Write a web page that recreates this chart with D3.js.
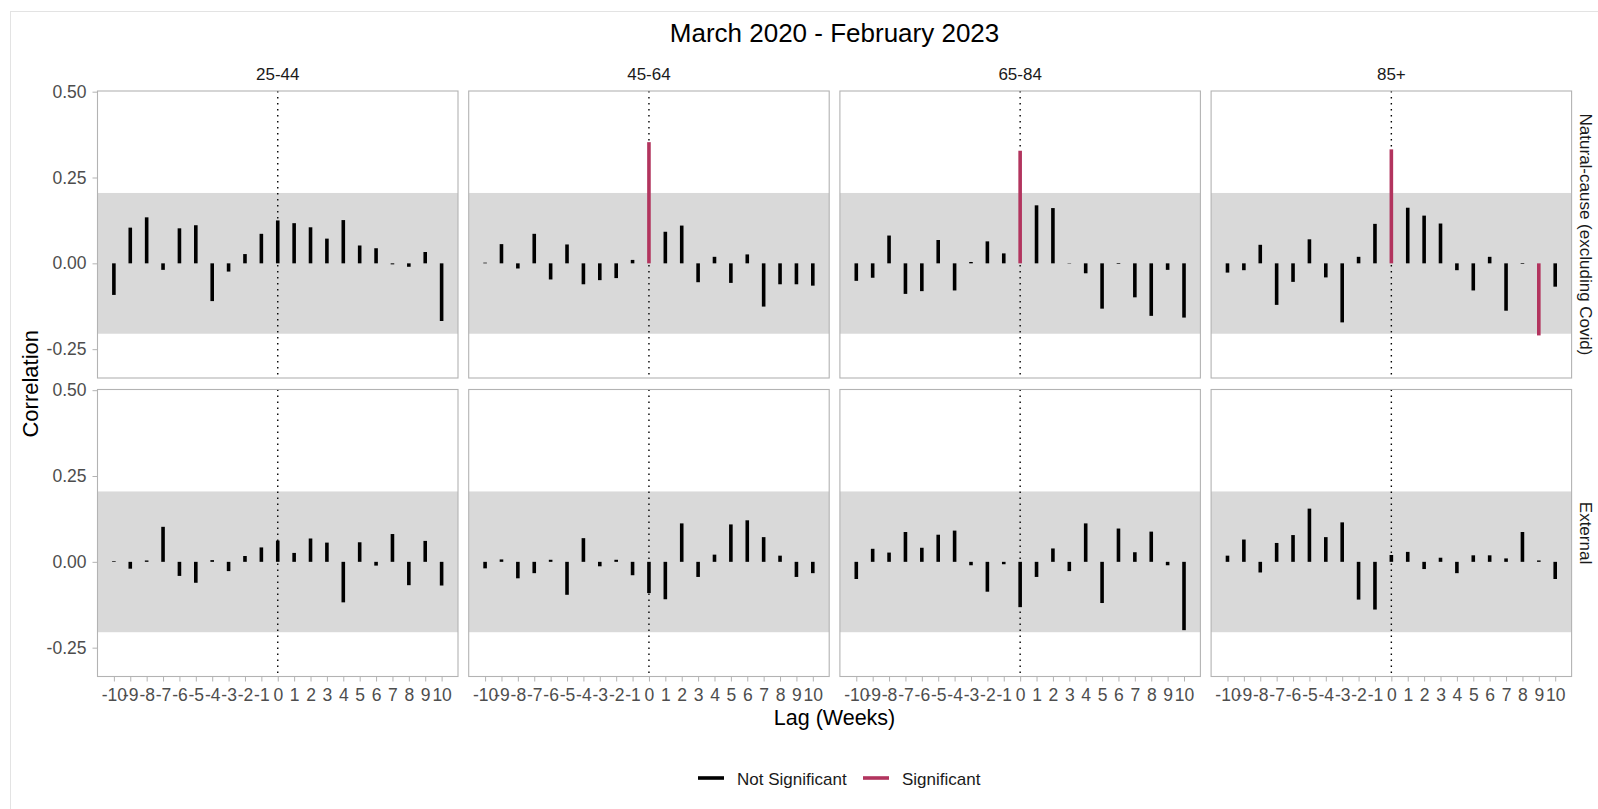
<!DOCTYPE html>
<html>
<head>
<meta charset="utf-8">
<script src="https://cdn.jsdelivr.net/npm/d3@7"></script>
<style>
  body { margin: 0; background: #fff; }
  svg { font-family: "Liberation Sans", Arial, sans-serif; }
</style>
</head>
<body>
<svg id="chart" width="1598" height="809"></svg>
<script>
// categories
const lags = [-10, -9, -8, -7, -6, -5, -4, -3, -2, -1, 0, 1, 2, 3, 4, 5, 6, 7, 8, 9, 10];
const ageGroups = ["25-44", "45-64", "65-84", "85+"];
const causes = ["Natural-cause (excluding Covid)", "External"];
const yTicks = [0.50, 0.25, 0.00, -0.25];
const bandLimit = 0.205; // significance band

// cross-correlation values by lag (-10..10)
const natural2544 = [-0.092, 0.104, 0.134, -0.019, 0.102, 0.111, -0.110, -0.024, 0.027, 0.086, 0.125, 0.117, 0.105, 0.072, 0.126, 0.052, 0.044, -0.003, -0.010, 0.033, -0.168];
const natural4564 = [0.002, 0.056, -0.015, 0.086, -0.047, 0.055, -0.061, -0.049, -0.043, 0.010, 0.353, 0.092, 0.110, -0.055, 0.019, -0.057, 0.026, -0.126, -0.061, -0.061, -0.065];
const natural6584 = [-0.051, -0.042, 0.081, -0.089, -0.081, 0.068, -0.079, 0.004, 0.064, 0.029, 0.328, 0.169, 0.161, 0.001, -0.029, -0.132, -0.002, -0.099, -0.153, -0.019, -0.158];
const natural85 = [-0.027, -0.020, 0.054, -0.121, -0.054, 0.070, -0.041, -0.172, 0.019, 0.115, 0.332, 0.162, 0.139, 0.116, -0.020, -0.079, 0.019, -0.138, -0.002, -0.210, -0.068];
const external2544 = [0.002, -0.020, 0.004, 0.102, -0.041, -0.061, 0.005, -0.027, 0.017, 0.042, 0.062, 0.026, 0.068, 0.056, -0.118, 0.057, -0.011, 0.081, -0.068, 0.061, -0.069];
const external4564 = [-0.019, 0.007, -0.048, -0.033, 0.006, -0.096, 0.069, -0.013, 0.006, -0.039, -0.091, -0.109, 0.112, -0.044, 0.021, 0.109, 0.121, 0.072, 0.018, -0.044, -0.033];
const external6584 = [-0.050, 0.038, 0.027, 0.087, 0.041, 0.079, 0.091, -0.010, -0.087, -0.007, -0.132, -0.044, 0.039, -0.027, 0.112, -0.120, 0.097, 0.028, 0.088, -0.010, -0.199];
const external85 = [0.018, 0.065, -0.031, 0.055, 0.078, 0.155, 0.072, 0.115, -0.110, -0.139, 0.020, 0.029, -0.021, 0.012, -0.033, 0.019, 0.019, 0.010, 0.087, 0.004, -0.050];

const panelValues = [
    [natural2544, natural4564, natural6584, natural85],
    [external2544, external4564, external6584, external85]
];

const legendItems = ["Not Significant", "Significant"];
const colors = {"Not Significant": "#000000", "Significant": "#b2345e"};

const svg = d3.select("#chart");
const panelW = 360.5, panelH = 287, gapX = 10.7, gapY = 11.5;
const plotLeft = 97.5, plotTop = 91;

// outer border of the figure
svg.append("rect")
    .attr("x", 10.5).attr("y", 11.5)
    .attr("width", 1620).attr("height", 830)
    .attr("fill", "none").attr("stroke", "#e3e3e3");

const col = d3.scaleBand()
    .domain(ageGroups)
    .range([plotLeft, plotLeft + 4 * panelW + 3 * gapX])
    .paddingInner(gapX / (panelW + gapX))
    .paddingOuter(0);

const row = d3.scaleBand()
    .domain(causes)
    .range([plotTop, plotTop + 2 * panelH + gapY])
    .paddingInner(gapY / (panelH + gapY))
    .paddingOuter(0);

const x = d3.scaleLinear().domain([-11, 11]).range([0, panelW]);
const y = d3.scaleLinear().domain([-0.334, 0.502]).range([panelH, 0]);

causes.forEach((cause, ri) => {
    ageGroups.forEach((age, ci) => {
        const values = panelValues[ri][ci];
        const g = svg.append("g")
            .attr("transform", `translate(${col(age)},${row(cause)})`);

        // significance band
        g.append("rect")
            .attr("x", 0).attr("width", panelW)
            .attr("y", y(bandLimit)).attr("height", y(-bandLimit) - y(bandLimit))
            .attr("fill", "#d9d9d9");

        // dotted line at lag 0
        g.append("line")
            .attr("x1", x(0)).attr("x2", x(0))
            .attr("y1", 0).attr("y2", panelH)
            .attr("stroke", "#000")
            .attr("stroke-width", 1.4)
            .attr("stroke-dasharray", "1.5,4.5");

        // lag bars
        g.selectAll("line.bar")
            .data(lags.map((l, i) => ({lag: l, value: values[i]})))
            .enter()
            .append("line")
            .attr("class", "bar")
            .attr("x1", d => x(d.lag)).attr("x2", d => x(d.lag))
            .attr("y1", y(0))
            .attr("y2", d => y(d.value))
            .attr("stroke", d => Math.abs(d.value) > bandLimit ? colors["Significant"] : colors["Not Significant"])
            .attr("stroke-width", 3.6);

        // panel border
        g.append("rect")
            .attr("width", panelW).attr("height", panelH)
            .attr("fill", "none").attr("stroke", "#b3b3b3").attr("stroke-width", 1.1);

        // y axis on first column
        if (ci === 0) {
            const ya = g.append("g")
                .call(d3.axisLeft(y).tickValues(yTicks).tickSize(5).tickPadding(6)
                    .tickFormat(d => d.toFixed(2)));
            ya.select(".domain").remove();
            ya.selectAll("line").attr("stroke", "#b3b3b3");
            ya.selectAll("text").attr("fill", "#4d4d4d").style("font-size", "17.5px")
                .attr("font-family", null);
        }

        // x axis on bottom row (labels overlap as in the original)
        if (ri === causes.length - 1) {
            const xa = g.append("g")
                .attr("transform", `translate(0,${panelH})`)
                .call(d3.axisBottom(x).tickValues(lags).tickSize(5).tickPadding(7)
                    .tickFormat(d => String(d)));
            xa.select(".domain").remove();
            xa.selectAll("line").attr("stroke", "#b3b3b3");
            xa.selectAll("text").attr("fill", "#4d4d4d").style("font-size", "17.5px")
                .attr("font-family", null);
        }
    });
});

// column strips
svg.selectAll("text.colstrip")
    .data(ageGroups)
    .enter()
    .append("text")
    .attr("class", "colstrip")
    .attr("x", d => col(d) + panelW / 2)
    .attr("y", 80)
    .attr("text-anchor", "middle")
    .style("font-size", "17px")
    .attr("fill", "#1a1a1a")
    .text(d => d);

// row strips
svg.selectAll("text.rowstrip")
    .data(causes)
    .enter()
    .append("text")
    .attr("class", "rowstrip")
    .attr("transform", d => `translate(1585,${row(d) + panelH / 2}) rotate(90)`)
    .attr("text-anchor", "middle")
    .attr("dominant-baseline", "central")
    .style("font-size", "17px")
    .attr("fill", "#1a1a1a")
    .text(d => d);

// title
svg.append("text")
    .attr("x", plotLeft + (4 * panelW + 3 * gapX) / 2)
    .attr("y", 41.7)
    .attr("text-anchor", "middle")
    .style("font-size", "26px")
    .attr("fill", "#000")
    .text("March 2020 - February 2023");

// axis titles
svg.append("text")
    .attr("x", plotLeft + (4 * panelW + 3 * gapX) / 2)
    .attr("y", 725)
    .attr("text-anchor", "middle")
    .style("font-size", "21.5px")
    .text("Lag (Weeks)");

svg.append("text")
    .attr("transform", `translate(38,${plotTop + panelH + gapY / 2}) rotate(-90)`)
    .attr("text-anchor", "middle")
    .style("font-size", "22px")
    .text("Correlation");

// legend
const legendX = [698, 863];
const leg = svg.selectAll("g.legend")
    .data(legendItems)
    .enter()
    .append("g")
    .attr("class", "legend")
    .attr("transform", (d, i) => `translate(${legendX[i]},778)`);
leg.append("line")
    .attr("x1", 0).attr("x2", 26)
    .attr("stroke", d => colors[d])
    .attr("stroke-width", 3.6);
leg.append("text")
    .attr("x", 39)
    .attr("y", 7)
    .style("font-size", "17px")
    .attr("fill", "#1a1a1a")
    .text(d => d);
</script>
</body>
</html>
